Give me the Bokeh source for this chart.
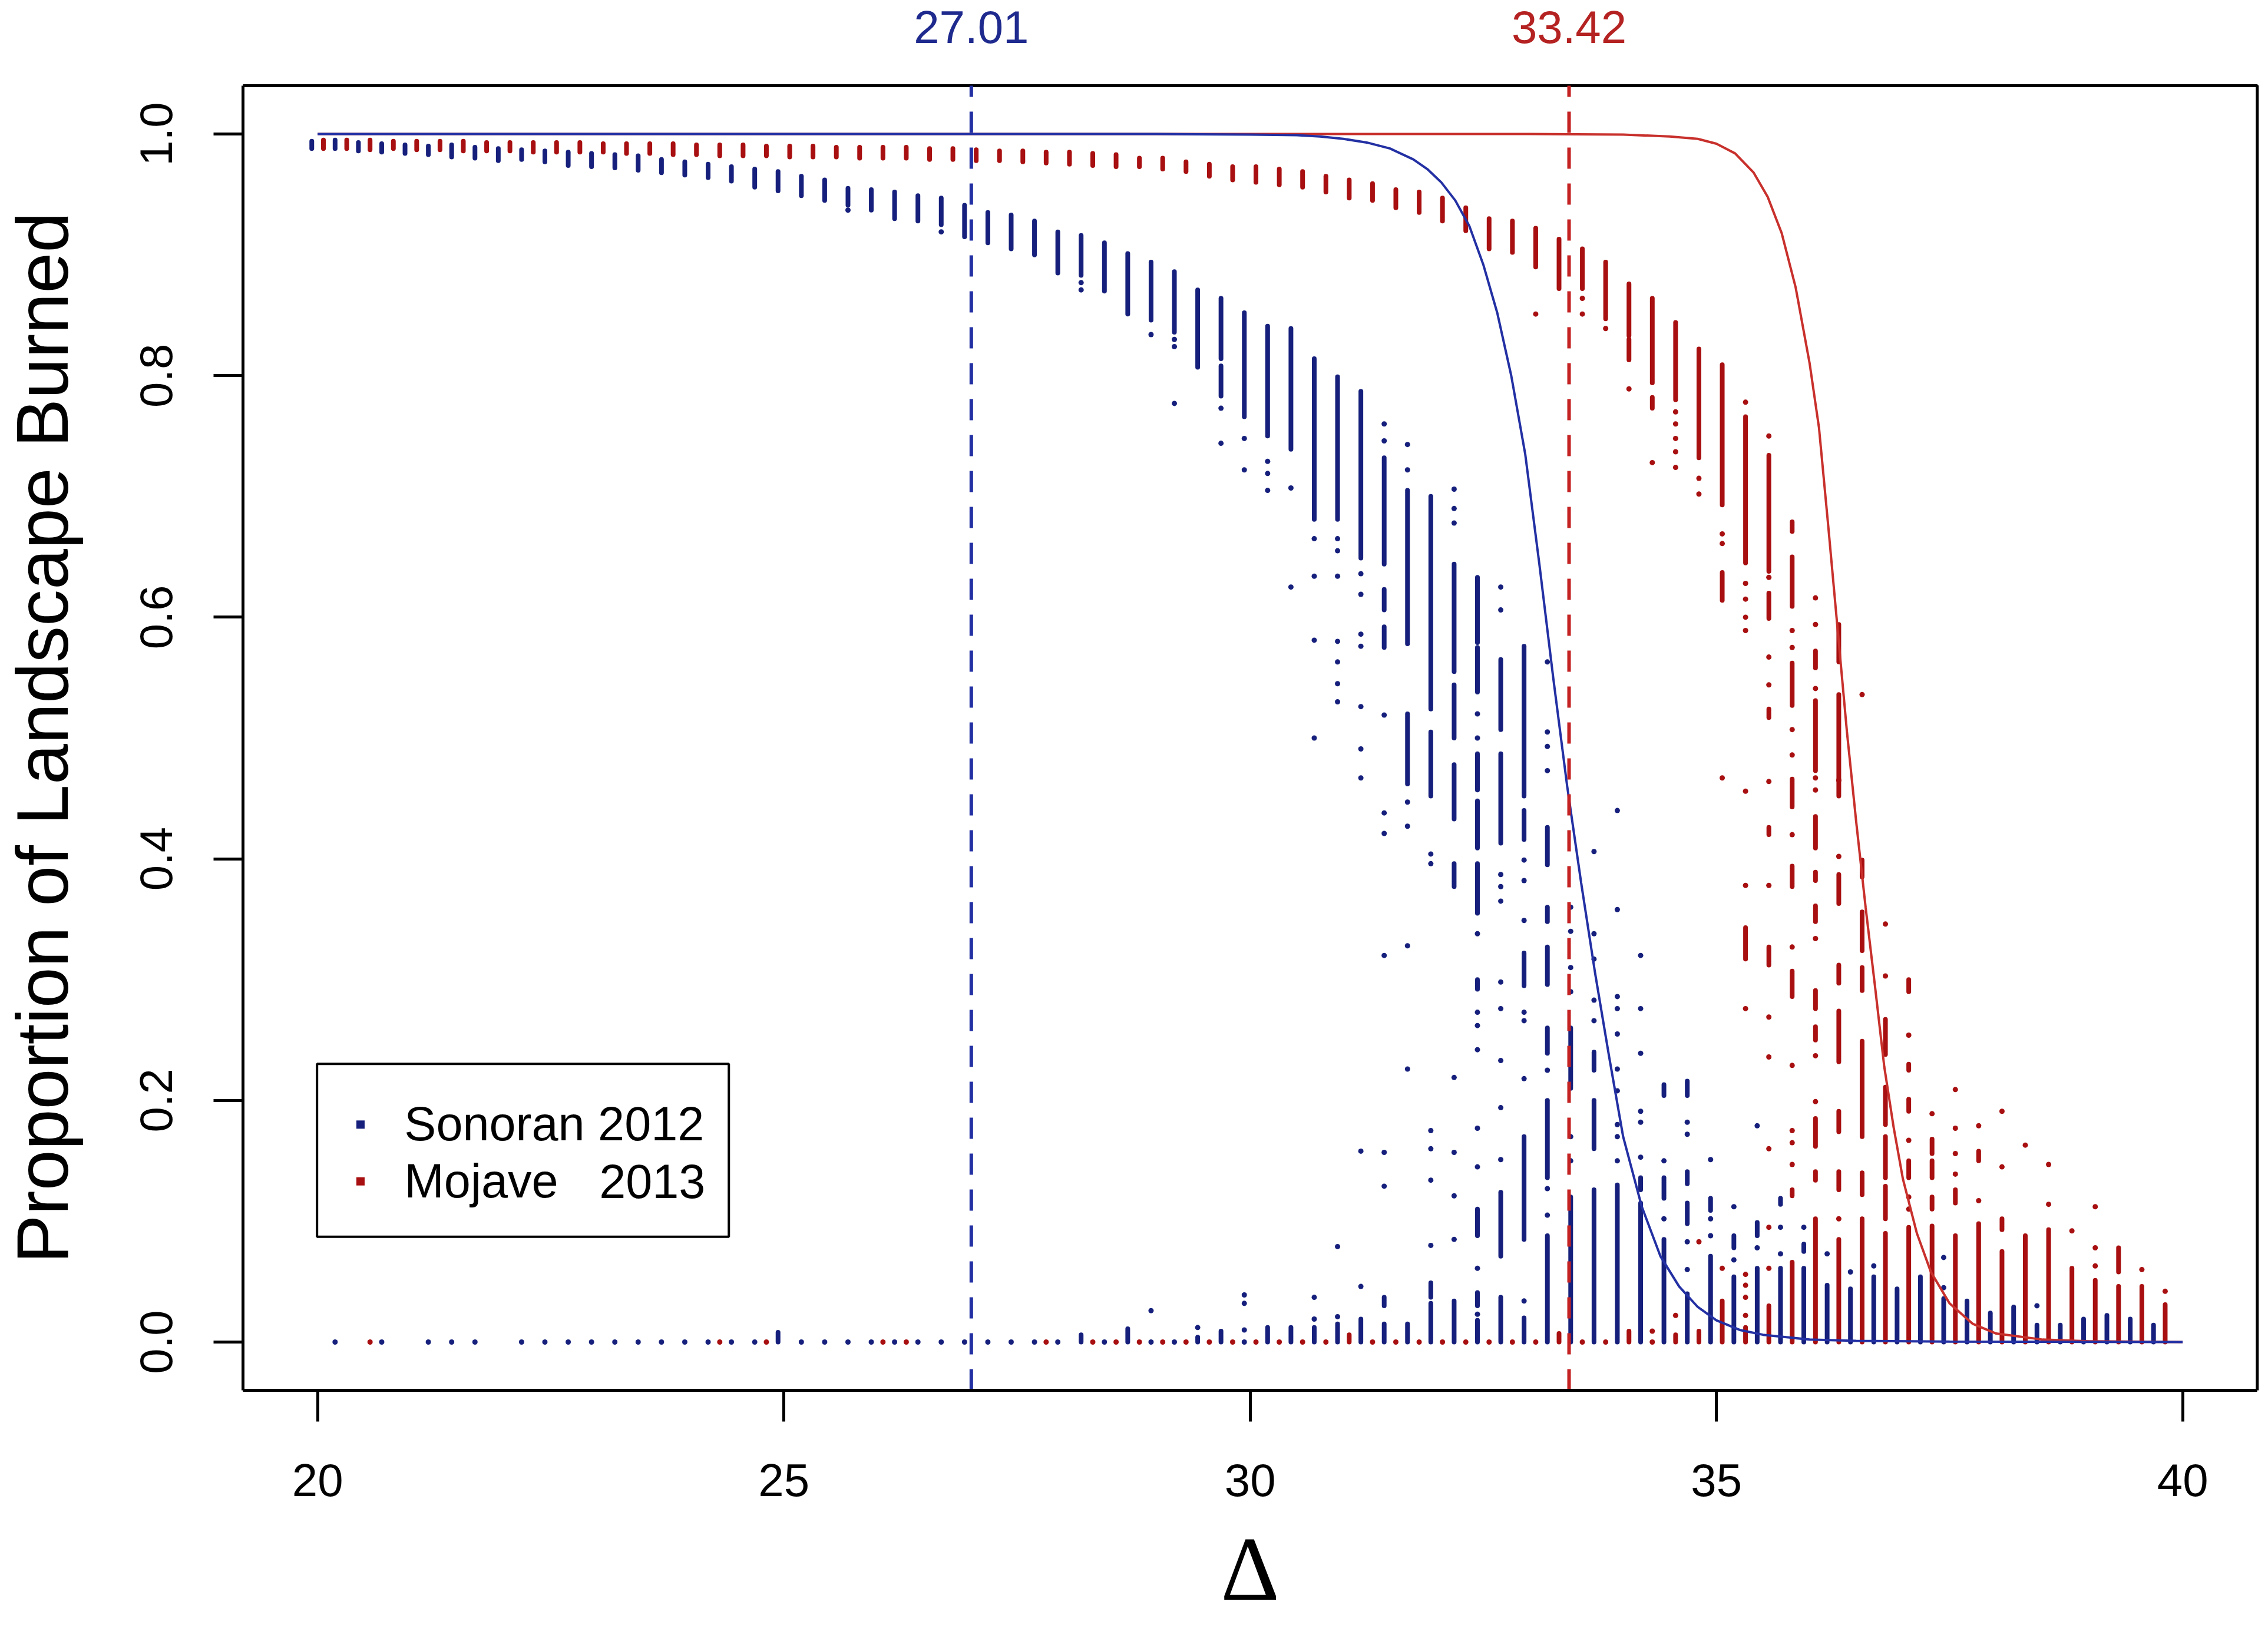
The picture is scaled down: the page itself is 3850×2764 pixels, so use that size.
import numpy as np
from math import pi
from bokeh.plotting import figure
from bokeh.models import Range1d, FixedTicker, PrintfTickFormatter, Label, ColumnDataSource
from bokeh.transform import dodge
from bokeh.embed import file_html
from bokeh.resources import INLINE

# ---------------- data ----------------
# simulation grid of Delta values (column index k -> Delta)
DELTA = np.arange(20.0, 40.0, 0.25).tolist()

# Sonoran 2012: dense runs of points (k, low, high)
SON_BARS = [
    (0, .988, .994), (1, .988, .995), (2, .986, .993), (3, .985, .992), (4, .984, .991),
    (5, .983, .990), (6, .981, .991), (7, .980, .989), (8, .978, .988), (9, .979, .987),
    (10, .977, .986), (11, .974, .985), (12, .973, .984), (13, .972, .983), (14, .970, .982),
    (15, .968, .979), (16, .966, .977), (17, .964, .975), (18, .961, .973), (19, .956, .971),
    (20, .953, .969), (21, .949, .965), (22, .945, .962), (23, .941, .955), (24, .937, .954),
    (25, .930, .952), (26, .928, .949), (27, .925, .947), (28, .915, .941), (29, .910, .935),
    (30, .905, .933), (31, .900, .928), (32, .885, .919), (33, .883, .916), (34, .870, .910),
    (35, .851, .901), (36, .846, .894), (37, .836, .886), (38, .807, .871), (39, .814, .864),
    (39, .783, .808), (40, .766, .852), (41, .750, .841), (42, .739, .839), (43, .681, .814),
    (44, .681, .799), (45, .649, .787),
    (46, .644, .732), (46, .606, .623), (46, .575, .592),
    (47, .578, .705), (47, .462, .520),
    (48, .524, .700), (48, .452, .505),
    (49, .555, .644), (49, .500, .544), (49, .433, .478), (49, .377, .396),
    (50, .579, .633), (50, .538, .575), (50, .457, .487), (50, .409, .448), (50, .355, .396),
    (50, .292, .300), (50, .088, .110),
    (51, .507, .565), (51, .413, .487), (51, .071, .124),
    (52, .452, .576), (52, .416, .440), (52, .295, .322), (52, .085, .170),
    (53, .395, .426), (53, .348, .360), (53, .296, .327), (53, .239, .260), (53, .136, .200),
    (54, .210, .260), (54, 0, .120),
    (55, .225, .240), (55, .160, .200), (55, 0, .126),
    (56, 0, .130),
    (57, .126, .136), (57, 0, .115),
    (58, .204, .213), (58, .119, .136), (58, 0, .085),
    (59, .204, .216), (59, .131, .141), (59, .098, .115), (59, 0, .040),
    (60, .109, .119), (60, 0, .071),
    (61, .078, .088), (61, 0, .054),
    (62, .088, .099), (62, 0, .061),
    (63, .114, .119), (63, 0, .061),
    (64, .075, .081), (64, 0, .061),
    (65, 0, .047), (66, 0, .044), (67, 0, .054), (68, 0, .044), (69, 0, .054), (70, 0, .036),
    (71, 0, .034), (72, 0, .024), (73, 0, .029), (74, 0, .014), (75, 0, .014), (76, 0, .019),
    (77, 0, .022), (78, 0, .019), (79, 0, .014),
    (20, 0, .008), (33, 0, .006), (35, 0, .011), (38, 0, .004), (39, 0, .009), (41, 0, .012),
    (42, 0, .012), (43, 0, .012), (44, 0, .015), (45, 0, .019), (46, .030, .037), (46, 0, .015),
    (47, 0, .015), (48, .037, .049), (48, 0, .032), (49, 0, .034), (50, .030, .041), (50, 0, .018),
    (51, 0, .037), (52, 0, .020), (53, 0, .088),
]

# Sonoran 2012: isolated points (k, proportion)
SON_DOTS = [
    (1, 0), (3, 0), (5, 0), (6, 0), (7, 0), (9, 0), (10, 0), (11, 0), (12, 0), (13, 0), (14, 0),
    (15, 0), (16, 0), (17, 0), (18, 0), (19, 0), (21, 0), (22, 0), (23, 0), (24, 0), (25, 0),
    (26, 0), (27, 0), (28, 0), (29, 0), (30, 0), (31, 0), (32, 0), (34, 0), (36, 0), (37, 0), (40, 0),
    (23, .937), (27, .919), (33, .877), (33, .871), (36, .834), (37, .830), (37, .824), (37, .777),
    (39, .773), (39, .744), (40, .748), (40, .722), (41, .729), (41, .719), (41, .705), (42, .707),
    (42, .625),
    (43, .665), (43, .634), (43, .581), (43, .500),
    (44, .665), (44, .655), (44, .634), (44, .580), (44, .563), (44, .545), (44, .530),
    (45, .636), (45, .619), (45, .586), (45, .576), (45, .526), (45, .491), (45, .467), (45, .158),
    (45, .046),
    (46, .760), (46, .746), (46, .519), (46, .438), (46, .421), (46, .320), (46, .157), (46, .129),
    (47, .743), (47, .722), (47, .447), (47, .427), (47, .328), (47, .226),
    (48, .404), (48, .396), (48, .175), (48, .160), (48, .134), (48, .080),
    (49, .706), (49, .690), (49, .678), (49, .219), (49, .157), (49, .121), (49, .085),
    (50, .520), (50, .500), (50, .338), (50, .273), (50, .262), (50, .242), (50, .177), (50, .145),
    (50, .061),
    (51, .625), (51, .606), (51, .387), (51, .377), (51, .365), (51, .298), (51, .276), (51, .233),
    (51, .194), (51, .151),
    (52, .399), (52, .382), (52, .349), (52, .273), (52, .266), (52, .218), (52, .034),
    (53, .563), (53, .505), (53, .493), (53, .473), (53, .225), (53, .127), (53, .105),
    (54, .360), (54, .340), (54, .310), (54, .290), (54, .170), (54, .150),
    (55, .406), (55, .338), (55, .317), (55, .283), (55, .266),
    (56, .440), (56, .358), (56, .286), (56, .276), (56, .255), (56, .226), (56, .208), (56, .180),
    (56, .170), (56, .150),
    (57, .320), (57, .276), (57, .239), (57, .191), (57, .182), (57, .153),
    (58, .150), (58, .102),
    (59, .182), (59, .172), (59, .083), (59, .060),
    (60, .151), (60, .102), (60, .088),
    (61, .112), (61, .068),
    (62, .179), (62, .078),
    (63, .095), (63, .073),
    (64, .095), (65, .073), (66, .058), (67, .063), (70, .070), (70, .045), (74, .030),
    (36, .026), (38, .012), (40, .039), (40, .032), (40, .010), (43, .037), (43, .019), (44, .079),
    (44, .021), (50, .023),
]

# Mojave 2013: dense runs of points (k, low, high)
MOJ_BARS = [
    (0, .988, .995), (1, .988, .995), (2, .987, .995), (3, .988, .994), (4, .987, .994),
    (5, .987, .994), (6, .986, .994), (7, .986, .993), (8, .986, .993), (9, .985, .993),
    (10, .985, .993), (11, .985, .993), (12, .985, .992), (13, .984, .992), (14, .984, .992),
    (15, .983, .992), (16, .983, .991), (17, .982, .991), (18, .982, .991), (19, .982, .990),
    (20, .981, .990), (21, .981, .990), (22, .981, .989), (23, .980, .989), (24, .980, .989),
    (25, .980, .989), (26, .979, .988), (27, .979, .988), (28, .978, .987), (29, .978, .986),
    (30, .977, .986), (31, .976, .985), (32, .975, .985), (33, .974, .984), (34, .973, .983),
    (35, .973, .980), (36, .971, .980), (37, .969, .977), (38, .965, .975), (39, .962, .973),
    (40, .960, .973), (41, .958, .971), (42, .956, .969), (43, .952, .965), (44, .947, .962),
    (45, .945, .959), (46, .939, .954), (47, .935, .952), (48, .928, .947), (49, .920, .939),
    (50, .905, .930), (51, .902, .928), (52, .890, .922), (53, .872, .913), (54, .872, .905),
    (55, .847, .894), (56, .833, .876), (56, .813, .830), (57, .794, .864), (57, .773, .782),
    (58, .780, .844), (59, .732, .822), (60, .693, .809), (60, .614, .637),
    (61, .645, .766), (61, .317, .343), (61, 0, .012),
    (62, .638, .734), (62, .599, .620), (62, .517, .524), (62, .420, .426), (62, .312, .327),
    (62, 0, .030),
    (63, .671, .679), (63, .609, .650), (63, .527, .562), (63, .443, .466), (63, .377, .394),
    (63, .286, .307), (63, .121, .126), (63, 0, .066),
    (64, .558, .572), (64, .473, .531), (64, .409, .435), (64, .382, .389), (64, .348, .361),
    (64, .276, .291), (64, .250, .261), (64, .162, .185), (64, .134, .141), (64, 0, .102),
    (65, .563, .594), (65, .452, .536), (65, .363, .387), (65, .297, .312), (65, .232, .274),
    (65, .174, .191), (65, .126, .141), (65, 0, .085),
    (66, .385, .399), (66, .324, .356), (66, .291, .310), (66, .170, .249), (66, .122, .140),
    (66, 0, .102),
    (67, .238, .267), (67, .180, .211), (67, .136, .170), (67, .102, .129), (67, 0, .090),
    (68, .290, .300), (68, .225, .230), (68, .191, .201), (68, .136, .150), (68, 0, .095),
    (69, .156, .168), (69, .136, .150), (69, .110, .120), (69, 0, .096),
    (70, .115, .126), (70, 0, .088),
    (71, .150, .158), (71, 0, .098),
    (72, .093, .102), (72, 0, .075),
    (73, 0, .088), (74, 0, .093), (75, 0, .061), (76, 0, .051), (77, .058, .078), (77, 0, .046),
    (78, 0, .046), (79, 0, .031),
    (44, 0, .006), (53, 0, .007), (56, 0, .009), (58, 0, .006), (59, 0, .009), (60, 0, .034),
]

# Mojave 2013: isolated points (k, proportion)
MOJ_DOTS = [
    (2, 0), (17, 0), (19, 0), (24, 0), (25, 0), (31, 0), (33, 0), (34, 0), (35, 0), (36, 0),
    (37, 0), (38, 0), (39, 0), (40, 0), (41, 0), (42, 0), (43, 0), (45, 0), (46, 0), (47, 0),
    (48, 0), (49, 0), (50, 0), (51, 0), (52, 0), (54, 0), (55, 0), (57, 0),
    (52, .851), (54, .864), (54, .851), (55, .839), (56, .789), (57, .728), (57, .009),
    (58, .770), (58, .760), (58, .748), (58, .737), (58, .724), (58, .022),
    (59, .715), (59, .702), (59, .083),
    (60, .669), (60, .661), (60, .467), (60, .061),
    (61, .778), (61, .628), (61, .615), (61, .600), (61, .589), (61, .456), (61, .378), (61, .276),
    (61, .056), (61, .047), (61, .037), (61, .022),
    (62, .750), (62, .633), (62, .567), (62, .544), (62, .464), (62, .378), (62, .269), (62, .236),
    (62, .160), (62, .095), (62, .061),
    (63, .589), (63, .575), (63, .507), (63, .486), (63, .420), (63, .327), (63, .229), (63, .175),
    (63, .165), (63, .147),
    (64, .616), (64, .594), (64, .541), (64, .467), (64, .457), (64, .334), (64, .237), (64, .199),
    (65, .465), (65, .402), (65, .102),
    (66, .536), (67, .346), (67, .303),
    (68, .254), (68, .167), (68, .120), (68, .110),
    (69, .189), (70, .209), (70, .177), (70, .156), (70, .139),
    (71, .179), (71, .117), (72, .191), (72, .145), (73, .163), (74, .147), (74, .114),
    (75, .092), (76, .112), (76, .078), (76, .063), (78, .060), (79, .042),
]

# fitted curves
SON_CURVE_X = [20, 29, 30, 30.5, 30.75, 31.0, 31.25, 31.5, 31.75, 31.9, 32.05, 32.2, 32.35,
               32.5, 32.65, 32.8, 32.95, 33.1, 33.25, 33.4, 33.55, 33.7, 33.85, 34.0, 34.2,
               34.4, 34.6, 34.8, 35.0, 35.25, 35.5, 36.0, 36.5, 37.5, 40]
SON_CURVE_Y = [1.0, 1.0, 0.9995, 0.999, 0.998, 0.996, 0.993, 0.988, 0.979, 0.971, 0.960, 0.945,
               0.924, 0.892, 0.852, 0.800, 0.735, 0.645, 0.550, 0.460, 0.380, 0.305, 0.236,
               0.170, 0.112, 0.071, 0.046, 0.029, 0.018, 0.010, 0.006, 0.002, 0.001, 0.0003, 0.0]
MOJ_CURVE_X = [20, 33, 34.0, 34.5, 34.8, 35.0, 35.2, 35.4, 35.55, 35.7, 35.85, 36.0, 36.1,
               36.2, 36.3, 36.4, 36.5, 36.6, 36.7, 36.8, 36.9, 37.0, 37.15, 37.3, 37.5, 37.75,
               38.0, 38.5, 39.0, 40]
MOJ_CURVE_Y = [1.0, 1.0, 0.9995, 0.998, 0.996, 0.992, 0.984, 0.968, 0.948, 0.918, 0.873, 0.810,
               0.757, 0.675, 0.590, 0.505, 0.430, 0.360, 0.295, 0.228, 0.178, 0.135, 0.090,
               0.058, 0.032, 0.015, 0.007, 0.002, 0.0006, 0.0]

# thresholds
SON_THRESH = 27.01
MOJ_THRESH = 33.42

X_TICKS = [20, 25, 30, 35, 40]
Y_TICKS = [0.0, 0.2, 0.4, 0.6, 0.8, 1.0]

# ---------------- layout / style ----------------
W, H = 3848, 2762
FRAME_L, FRAME_B = 412, 2360          # pixel position of the plot box (left, bottom)
PX_X, PX_Y = 158.3, 2050.9            # pixels per data unit
X_LO, X_HI = 19.2, 40.8               # plot box limits (R-style 4% padding)
Y_LO, Y_HI = -0.04, 1.04

SON_PT, SON_LN = "#16207c", "#2330a3"
MOJ_PT, MOJ_LN = "#a80f10", "#c8302c"
FONT = "Liberation Sans"

# the frame reaches the canvas top and right, so texts above the box are not clipped
x_range = Range1d(X_LO, X_LO + (W - FRAME_L) / PX_X)
y_range = Range1d(Y_LO, Y_LO + FRAME_B / PX_Y)

p = figure(width=W, height=H, output_backend="svg", toolbar_location=None,
           x_range=x_range, y_range=y_range,
           min_border_left=FRAME_L, min_border_right=0, min_border_top=0,
           min_border_bottom=H - FRAME_B)
p.grid.visible = False
p.background_fill_color = "white"
p.border_fill_color = "white"
p.outline_line_color = None

for ax in (p.xaxis[0], p.yaxis[0]):
    ax.axis_line_color = "black"
    ax.axis_line_width = 5
    ax.major_tick_in = 0
    ax.major_tick_line_width = 5
    ax.major_tick_line_color = "black"
    ax.minor_tick_line_color = None
    ax.major_label_text_font = FONT
    ax.major_label_text_font_size = "78px"
    ax.major_label_text_color = "black"

p.xaxis.bounds = (X_LO, X_HI)
p.xaxis.ticker = FixedTicker(ticks=X_TICKS)
p.xaxis.major_tick_out = 53
p.xaxis.major_label_standoff = 72

p.yaxis.bounds = (Y_LO, Y_HI)
p.yaxis.ticker = FixedTicker(ticks=Y_TICKS)
p.yaxis.formatter = PrintfTickFormatter(format="%.1f")
p.yaxis.major_tick_out = 50
p.yaxis.major_label_standoff = 70
p.yaxis.major_label_orientation = "parallel"

# axis titles, placed in the side panels (so they are not clipped to the box)
p.add_layout(Label(x=30.0, y=-0.1882, text="\u0394", text_align="center",
                   text_baseline="alphabetic", text_font="Liberation Serif",
                   text_font_size="155px", text_color="black"), "below")
p.add_layout(Label(x=17.052, y=0.5002, text="Proportion of Landscape Burned", angle=pi / 2,
                   text_align="center", text_baseline="alphabetic", text_font=FONT,
                   text_font_size="124px", text_color="black"), "left")

# top and right sides of the box
p.quad(left=X_LO, right=X_HI, bottom=Y_LO, top=Y_HI, fill_color=None,
       line_color="black", line_width=5)


def bar_source(bars):
    return ColumnDataSource(dict(x=[DELTA[k] for k, _, _ in bars],
                                 lo=[lo for _, lo, _ in bars],
                                 hi=[hi for _, _, hi in bars]))


def dot_source(dots):
    return ColumnDataSource(dict(x=[DELTA[k] for k, _ in dots], y=[y for _, y in dots]))


for bars, dots, shift, col in ((SON_BARS, SON_DOTS, -0.0625, SON_PT),
                               (MOJ_BARS, MOJ_DOTS, 0.0625, MOJ_PT)):
    xs = dodge("x", shift)
    p.segment(x0=xs, y0="lo", x1=xs, y1="hi", source=bar_source(bars),
              line_color=col, line_width=8, line_cap="round")
    p.scatter(x=xs, y="y", source=dot_source(dots), marker="circle", size=9,
              fill_color=col, line_color=None)

p.line(MOJ_CURVE_X, MOJ_CURVE_Y, line_color=MOJ_LN, line_width=4)
p.line(SON_CURVE_X, SON_CURVE_Y, line_color=SON_LN, line_width=4)

# threshold lines across the box
p.segment(x0=[SON_THRESH], y0=[Y_LO], x1=[SON_THRESH], y1=[Y_HI], line_color=SON_LN,
          line_width=6, line_dash="36 25")
p.segment(x0=[MOJ_THRESH], y0=[Y_LO], x1=[MOJ_THRESH], y1=[Y_HI], line_color="#c42222",
          line_width=6, line_dash="36 25")

LABEL_Y = 1.0885
p.add_layout(Label(x=SON_THRESH, y=LABEL_Y, text=f"{SON_THRESH:.2f}", text_align="center",
                   text_baseline="alphabetic", text_font=FONT, text_font_size="78px",
                   text_color="#1f2a8e"))
p.add_layout(Label(x=MOJ_THRESH, y=LABEL_Y, text=f"{MOJ_THRESH:.2f}", text_align="center",
                   text_baseline="alphabetic", text_font=FONT, text_font_size="78px",
                   text_color="#b52222"))

# legend box
p.quad(left=19.994, right=24.41, bottom=0.0871, top=0.2303, fill_color="white",
       line_color="black", line_width=4)
p.scatter(x=[20.46, 20.46], y=[0.180, 0.133], marker="square", size=14,
          fill_color=[SON_PT, MOJ_PT], line_color=None)
p.add_layout(Label(x=20.93, y=0.1805, text="Sonoran 2012", text_align="left",
                   text_baseline="alphabetic", text_font=FONT, text_font_size="81px",
                   text_color="black"))
p.add_layout(Label(x=20.93, y=0.1333, text="Mojave", text_align="left",
                   text_baseline="alphabetic", text_font=FONT, text_font_size="81px",
                   text_color="black"))
p.add_layout(Label(x=23.02, y=0.1333, text="2013", text_align="left",
                   text_baseline="alphabetic", text_font=FONT, text_font_size="81px",
                   text_color="black"))

open("out.html", "w").write(file_html(p, INLINE))
